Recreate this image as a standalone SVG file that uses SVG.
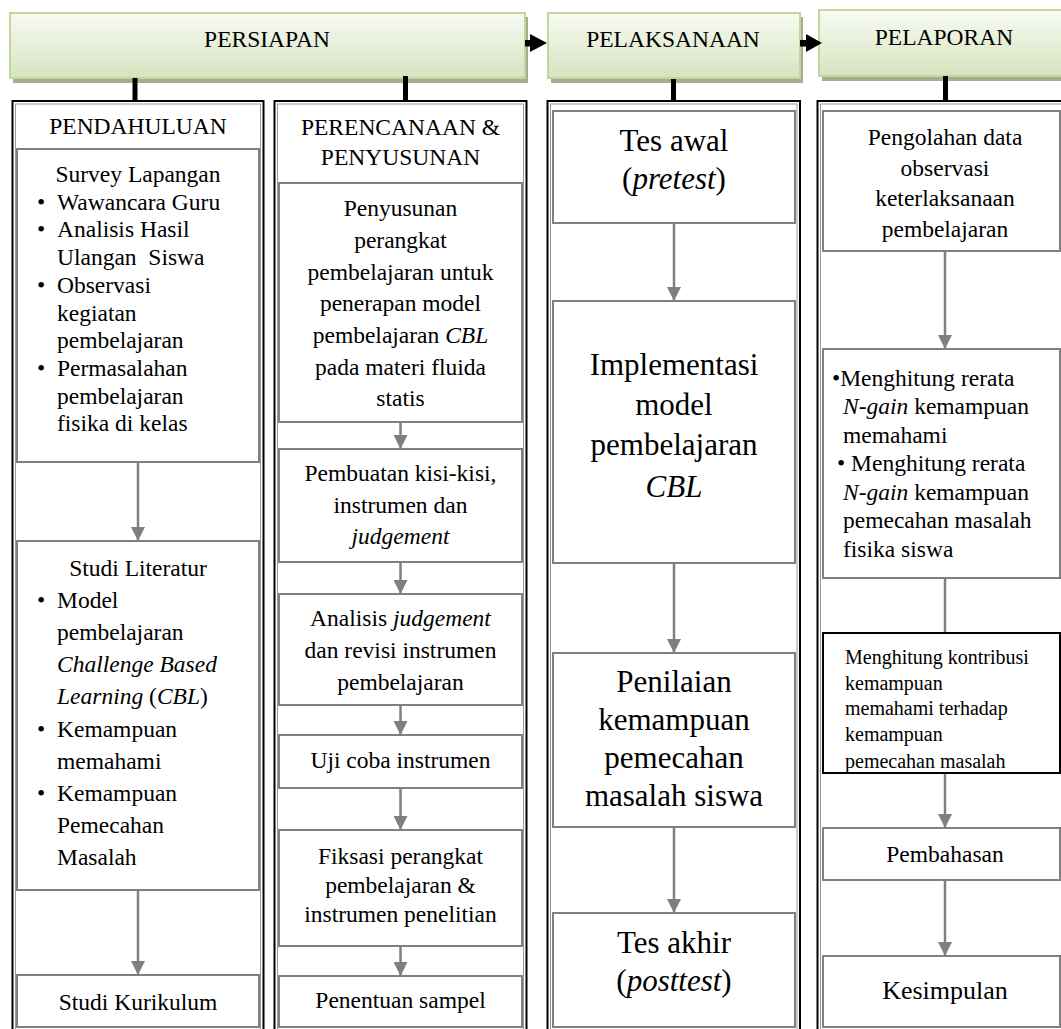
<svg xmlns="http://www.w3.org/2000/svg" width="1061" height="1029" viewBox="0 0 1061 1029">
<defs>
<linearGradient id="hg" x1="0" y1="0" x2="0" y2="1">
<stop offset="0" stop-color="#f8fbf3"/>
<stop offset="1" stop-color="#d6e3bf"/>
</linearGradient>
<marker id="ah" markerUnits="userSpaceOnUse" markerWidth="14" markerHeight="14" refX="14" refY="7" orient="auto" viewBox="0 0 14 14"><path d="M0,0 L14,7 L0,14 z" fill="#7f7f7f"/></marker>
<clipPath id="kclip"><rect x="823" y="633" width="237" height="139"/></clipPath>
</defs>
<style>
.t{font-family:"Liberation Serif","Times New Roman",serif;font-size:23.5px;fill:#000}
.c{text-anchor:middle}
.big{font-size:31px}
.sm{font-size:20px}
.k{font-size:26px}
.hd{font-size:23.5px}
.i{font-style:italic}
.box{fill:#fff;stroke:#808080;stroke-width:2}
.bbox{fill:none;stroke:#000;stroke-width:2}
.col{fill:#fff;stroke:#000;stroke-width:2}
.coli{fill:none;stroke:#9a9a9a;stroke-width:1}
.hdr{fill:url(#hg);stroke:#c3d69b;stroke-width:2}
.sh{fill:#a4ae8e}
.bar{stroke:#000;stroke-width:5}
.con{stroke:#808080;stroke-width:2.5;fill:none}
.ha{fill:#000}
</style>

<g id="header-persiapan">
<rect class="sh" x="13" y="17" width="515" height="66"/>
<rect class="hdr" x="10" y="13" width="515" height="65"/>
<text class="t c hd" x="267" y="47">PERSIAPAN</text>
</g>
<g id="header-pelaksanaan">
<rect class="sh" x="551" y="17" width="252" height="66"/>
<rect class="hdr" x="548" y="13" width="252" height="65"/>
<text class="t c hd" x="673" y="47">PELAKSANAAN</text>
</g>
<g id="header-pelaporan">
<rect class="sh" x="822" y="14" width="260" height="67"/>
<rect class="hdr" x="819" y="10" width="260" height="66"/>
<text class="t c hd" x="944" y="45">PELAPORAN</text>
</g>

<g id="col-pendahuluan">
<rect class="col" x="12.5" y="101" width="251" height="940"/>
<rect class="coli" x="15.5" y="104" width="245" height="940"/>
</g>
<g id="col-perencanaan">
<rect class="col" x="274.5" y="101" width="252" height="940"/>
<rect class="coli" x="277.5" y="104" width="246" height="940"/>
</g>
<g id="col-pelaksanaan">
<rect class="col" x="547.5" y="101" width="252.5" height="940"/>
<rect class="coli" x="550.5" y="104" width="246.5" height="940"/>
</g>
<g id="col-pelaporan">
<rect class="col" x="817.5" y="101" width="260" height="940"/>
<rect class="coli" x="820.5" y="104" width="254" height="940"/>
</g>

<g id="connectors">
<line class="bar" x1="135" y1="78" x2="135" y2="102"/>
<line class="bar" x1="405.5" y1="76" x2="405.5" y2="102"/>
<line class="bar" x1="673.5" y1="79" x2="673.5" y2="102"/>
<line class="bar" x1="945.5" y1="76" x2="945.5" y2="102"/>
<rect class="ha" x="525" y="40" width="7" height="6.5"/>
<path class="ha" d="M530,34 L547,43 L530,52 z"/>
<rect class="ha" x="800" y="40" width="7" height="6.5"/>
<path class="ha" d="M806,34 L822,43 L806,52 z"/>
<line class="con" x1="138" y1="462" x2="138" y2="541" marker-end="url(#ah)"/>
<line class="con" x1="138" y1="890" x2="138" y2="975" marker-end="url(#ah)"/>
<line class="con" x1="400.5" y1="422" x2="400.5" y2="449" marker-end="url(#ah)"/>
<line class="con" x1="400.5" y1="562" x2="400.5" y2="594" marker-end="url(#ah)"/>
<line class="con" x1="400.5" y1="705" x2="400.5" y2="735" marker-end="url(#ah)"/>
<line class="con" x1="400.5" y1="788" x2="400.5" y2="830" marker-end="url(#ah)"/>
<line class="con" x1="400.5" y1="946" x2="400.5" y2="976" marker-end="url(#ah)"/>
<line class="con" x1="674" y1="223" x2="674" y2="301" marker-end="url(#ah)"/>
<line class="con" x1="674" y1="563" x2="674" y2="653" marker-end="url(#ah)"/>
<line class="con" x1="674" y1="827" x2="674" y2="913" marker-end="url(#ah)"/>
<line class="con" x1="945" y1="251" x2="945" y2="349" marker-end="url(#ah)"/>
<line class="con" x1="945" y1="578" x2="945" y2="633"/>
<line class="con" x1="945" y1="773" x2="945" y2="828" marker-end="url(#ah)"/>
<line class="con" x1="945" y1="880" x2="945" y2="956" marker-end="url(#ah)"/>
</g>

<g id="pendahuluan-title"><text class="t c" x="138" y="134">PENDAHULUAN</text></g>
<g id="survey">
<rect class="box" x="17" y="149" width="242" height="313"/>
<text class="t c" x="138" y="182">Survey Lapangan</text>
<text class="t" x="37" y="209.5">•</text><text class="t" x="57" y="209.5">Wawancara Guru</text>
<text class="t" x="37" y="237">•</text><text class="t" x="57" y="237">Analisis Hasil</text>
<text class="t" x="57" y="265">Ulangan&#160; Siswa</text>
<text class="t" x="37" y="293">•</text><text class="t" x="57" y="293">Observasi</text>
<text class="t" x="57" y="320.5">kegiatan</text>
<text class="t" x="57" y="348">pembelajaran</text>
<text class="t" x="37" y="376">•</text><text class="t" x="57" y="376">Permasalahan</text>
<text class="t" x="57" y="403.5">pembelajaran</text>
<text class="t" x="57" y="431">fisika di kelas</text>
</g>
<g id="studi-literatur">
<rect class="box" x="17" y="541" width="242" height="349"/>
<text class="t c" x="138" y="576">Studi Literatur</text>
<text class="t" x="37" y="608">•</text><text class="t" x="57" y="608">Model</text>
<text class="t" x="57" y="640">pembelajaran</text>
<text class="t i" x="57" y="672">Challenge Based</text>
<text class="t" x="57" y="704"><tspan class="i">Learning</tspan> (<tspan class="i">CBL</tspan>)</text>
<text class="t" x="37" y="737">•</text><text class="t" x="57" y="737">Kemampuan</text>
<text class="t" x="57" y="769">memahami</text>
<text class="t" x="37" y="801">•</text><text class="t" x="57" y="801">Kemampuan</text>
<text class="t" x="57" y="833">Pemecahan</text>
<text class="t" x="57" y="865">Masalah</text>
</g>
<g id="studi-kurikulum">
<rect class="box" x="17" y="975" width="242" height="52"/>
<text class="t c" x="138" y="1010">Studi Kurikulum</text>
</g>

<g id="perencanaan-title">
<text class="t c" x="400.5" y="135">PERENCANAAN &amp;</text>
<text class="t c" x="400.5" y="165">PENYUSUNAN</text>
</g>
<g id="penyusunan">
<rect class="box" x="279" y="183" width="243" height="239"/>
<text class="t c" x="400.5" y="216">Penyusunan</text>
<text class="t c" x="400.5" y="248">perangkat</text>
<text class="t c" x="400.5" y="279.5">pembelajaran untuk</text>
<text class="t c" x="400.5" y="311">penerapan model</text>
<text class="t c" x="400.5" y="343">pembelajaran <tspan class="i">CBL</tspan></text>
<text class="t c" x="400.5" y="374.5">pada materi fluida</text>
<text class="t c" x="400.5" y="406">statis</text>
</g>
<g id="kisi-kisi">
<rect class="box" x="279" y="449" width="243" height="113"/>
<text class="t c" x="400.5" y="481">Pembuatan kisi-kisi,</text>
<text class="t c" x="400.5" y="513">instrumen dan</text>
<text class="t c i" x="400.5" y="544">judgement</text>
</g>
<g id="analisis-judgement">
<rect class="box" x="279" y="594" width="243" height="111"/>
<text class="t c" x="400.5" y="626">Analisis <tspan class="i">judgement</tspan></text>
<text class="t c" x="400.5" y="658">dan revisi instrumen</text>
<text class="t c" x="400.5" y="690">pembelajaran</text>
</g>
<g id="uji-coba">
<rect class="box" x="279" y="735" width="243" height="53"/>
<text class="t c" x="400.5" y="768">Uji coba instrumen</text>
</g>
<g id="fiksasi">
<rect class="box" x="279" y="830" width="243" height="116"/>
<text class="t c" x="400.5" y="864">Fiksasi perangkat</text>
<text class="t c" x="400.5" y="893">pembelajaran &amp;</text>
<text class="t c" x="400.5" y="922">instrumen penelitian</text>
</g>
<g id="penentuan-sampel">
<rect class="box" x="279" y="976" width="243" height="51"/>
<text class="t c" x="400.5" y="1008">Penentuan sampel</text>
</g>

<g id="tes-awal">
<rect class="box" x="553" y="111" width="242" height="112"/>
<text class="t c big" x="674" y="151">Tes awal</text>
<text class="t c big" x="674" y="189">(<tspan class="i">pretest</tspan>)</text>
</g>
<g id="implementasi">
<rect class="box" x="553" y="301" width="242" height="262"/>
<text class="t c big" x="674" y="375">Implementasi</text>
<text class="t c big" x="674" y="415">model</text>
<text class="t c big" x="674" y="455">pembelajaran</text>
<text class="t c big i" x="674" y="497">CBL</text>
</g>
<g id="penilaian">
<rect class="box" x="553" y="653" width="242" height="174"/>
<text class="t c big" x="674" y="692">Penilaian</text>
<text class="t c big" x="674" y="730">kemampuan</text>
<text class="t c big" x="674" y="768">pemecahan</text>
<text class="t c big" x="674" y="806">masalah siswa</text>
</g>
<g id="tes-akhir">
<rect class="box" x="553" y="913" width="242" height="114"/>
<text class="t c big" x="674" y="953">Tes akhir</text>
<text class="t c big" x="674" y="991">(<tspan class="i">posttest</tspan>)</text>
</g>

<g id="pengolahan">
<rect class="box" x="823" y="111" width="237" height="140"/>
<text class="t c" x="945" y="145">Pengolahan data</text>
<text class="t c" x="945" y="175.5">observasi</text>
<text class="t c" x="945" y="206">keterlaksanaan</text>
<text class="t c" x="945" y="236.5">pembelajaran</text>
</g>
<g id="n-gain">
<rect class="box" x="823" y="349" width="237" height="229"/>
<text class="t" x="832" y="386">•Menghitung rerata</text>
<text class="t" x="843" y="414"><tspan class="i">N-gain</tspan> kemampuan</text>
<text class="t" x="843" y="443">memahami</text>
<text class="t" x="837" y="471">• Menghitung rerata</text>
<text class="t" x="843" y="500"><tspan class="i">N-gain</tspan> kemampuan</text>
<text class="t" x="843" y="528">pemecahan masalah</text>
<text class="t" x="843" y="557">fisika siswa</text>
</g>
<g id="kontribusi">
<rect x="823" y="633" width="237" height="140" fill="#fff"/>
<g clip-path="url(#kclip)">
<text class="t sm" x="845" y="664">Menghitung kontribusi</text>
<text class="t sm" x="845" y="689.5">kemampuan</text>
<text class="t sm" x="845" y="715">memahami terhadap</text>
<text class="t sm" x="845" y="740.5">kemampuan</text>
<text class="t sm" x="845" y="768">pemecahan masalah</text>
</g>
<rect class="bbox" x="823" y="633" width="237" height="140"/>
</g>
<g id="pembahasan">
<rect class="box" x="823" y="828" width="237" height="52"/>
<text class="t c" x="945" y="862">Pembahasan</text>
</g>
<g id="kesimpulan">
<rect class="box" x="823" y="956" width="237" height="71"/>
<text class="t c k" x="945" y="999">Kesimpulan</text>
</g>
</svg>
